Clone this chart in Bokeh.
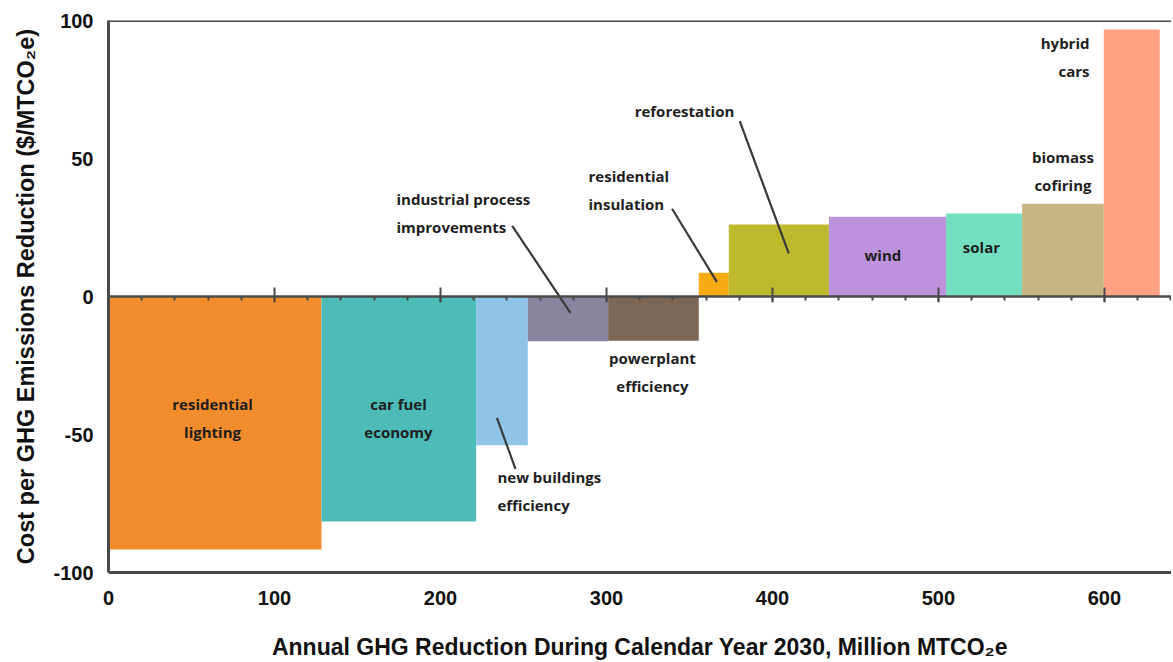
import numpy as np
from bokeh.plotting import figure
from bokeh.models import (LinearAxis, SingleIntervalTicker, FixedTicker, Range1d,
                          ColumnDataSource, PrintfTickFormatter, Span)
from bokeh.core.properties import value
from bokeh.embed import file_html
from bokeh.resources import INLINE

# ---- data ----
categories = ["residential lighting", "car fuel economy", "new buildings efficiency",
              "industrial process improvements", "powerplant efficiency",
              "residential insulation", "reforestation", "wind", "solar",
              "biomass cofiring", "hybrid cars"]
reductions = [128.3, 93.2, 31.1, 48.4, 54.6, 18.1, 60.3, 70.6, 45.8, 49.2, 33.7]
costs = [-91.7, -81.5, -53.9, -16.2, -16.0, 8.6, 26.1, 28.9, 30.1, 33.6, 96.7]
colors = ["#F28C2D", "#4DBCB8", "#8FC4E8", "#8A84A0", "#7D6653", "#F6AA14",
          "#BEB92D", "#BE91DC", "#73DEC0", "#C8B482", "#FFA182"]

x_ticks_major = [0, 100, 200, 300, 400, 500, 600]
y_ticks = [-100, -50, 0, 50, 100]

# annotation labels
label_text = ["residential\nlighting", "car fuel\neconomy", "new buildings\nefficiency",
              "industrial process\nimprovements", "powerplant\nefficiency",
              "residential\ninsulation", "reforestation", "wind", "solar",
              "biomass\ncofiring", "hybrid\ncars"]
label_x = [62.7, 174.7, 234.3, 173.5, 327.7, 289.2, 347.0, 466.5, 525.9, 575.0, 591.0]
label_y = [-44.0, -44.0, -70.5, 30.4, -27.5, 38.5, 67.2, 15.2, 18.0, 45.4, 86.6]
label_align = ["center", "center", "left", "left", "center", "left", "center",
               "center", "center", "center", "right"]

# leader lines
leader_x0 = [234.0, 243.2, 339.5, 380.3]
leader_y0 = [-44.0, 25.6, 31.8, 63.5]
leader_x1 = [245.2, 278.3, 366.6, 409.8]
leader_y1 = [-62.5, -5.9, 5.2, 15.6]

# ---- figure ----
right_edges = np.cumsum(reductions)
left_edges = right_edges - np.array(reductions)

src = ColumnDataSource(dict(left=left_edges, right=right_edges, top=costs,
                            bottom=[0] * len(costs), color=colors, name=categories))

AXFONT = "Liberation Sans"
LBFONT = "Open Sans"
AXC = "#4a4a4a"

p = figure(frame_width=1063, frame_height=552, output_backend="svg",
           toolbar_location=None, x_range=Range1d(0, 640.4), y_range=Range1d(-100, 100),
           x_axis_location=None, y_axis_location=None,
           min_border_left=108, min_border_top=20, min_border_right=0, min_border_bottom=0)
p.outline_line_color = None
p.xgrid.visible = False
p.ygrid.visible = False
p.background_fill_color = "white"
p.border_fill_color = "white"

p.quad(left="left", right="right", top="top", bottom="bottom", color="color",
       line_color=None, source=src)

p.segment(x0=leader_x0, y0=leader_y0, x1=leader_x1, y1=leader_y1,
          line_color="#3a3a3a", line_width=2.2)

lsrc = ColumnDataSource(dict(x=label_x, y=label_y, t=label_text, a=label_align))
p.text(x="x", y="y", text="t", text_align="a", text_baseline="middle", source=lsrc,
       text_font=value(LBFONT), text_font_style="bold", text_font_size="15px",
       text_color="#1e1e1e", text_line_height=1.4)

# top border
p.add_layout(Span(location=100, dimension="width", line_color=AXC, line_width=3))

# left axis
yax = LinearAxis(ticker=FixedTicker(ticks=y_ticks), formatter=PrintfTickFormatter(format="%d"),
                 axis_label="Cost per GHG Emissions Reduction ($/MTCO\u2082e)")
yax.axis_line_color = AXC
yax.axis_line_width = 3
yax.major_tick_line_color = None
yax.minor_tick_line_color = None
yax.major_label_standoff = 9
yax.major_label_text_font = AXFONT
yax.major_label_text_font_style = "bold"
yax.major_label_text_font_size = "20px"
yax.major_label_text_color = "#111111"
yax.axis_label_text_font = AXFONT
yax.axis_label_text_font_style = "bold"
yax.axis_label_text_font_size = "23.5px"
yax.axis_label_text_color = "#111111"
yax.axis_label_standoff = 11
p.add_layout(yax, "left")

# bottom axis (frame bottom)
xax = LinearAxis(ticker=FixedTicker(ticks=x_ticks_major), formatter=PrintfTickFormatter(format="%d"),
                 axis_label="Annual GHG Reduction During Calendar Year 2030, Million MTCO\u2082e")
xax.axis_line_color = AXC
xax.axis_line_width = 3
xax.major_tick_line_color = None
xax.minor_tick_line_color = None
xax.major_label_standoff = 12
xax.major_label_text_font = AXFONT
xax.major_label_text_font_style = "bold"
xax.major_label_text_font_size = "20px"
xax.major_label_text_color = "#111111"
xax.axis_label_text_font = AXFONT
xax.axis_label_text_font_style = "bold"
xax.axis_label_text_font_size = "23px"
xax.axis_label_text_color = "#111111"
xax.axis_label_standoff = 26
p.add_layout(xax, "below")

# zero line axis with ticks (placed in the top panel, drawn at y = 0)
zax = LinearAxis(ticker=SingleIntervalTicker(interval=100, num_minor_ticks=5),
                 fixed_location=0)
zax.axis_line_color = AXC
zax.axis_line_width = 2.5
zax.major_tick_line_color = AXC
zax.major_tick_line_width = 2
zax.major_tick_in = 6
zax.major_tick_out = 9
zax.minor_tick_line_color = AXC
zax.minor_tick_line_width = 2
zax.minor_tick_in = 4
zax.minor_tick_out = 0
zax.major_label_standoff = 0
zax.major_label_text_font_size = "0px"
zax.major_label_text_alpha = 0
p.add_layout(zax, "above")

open("out.html", "w").write(file_html(p, INLINE))
